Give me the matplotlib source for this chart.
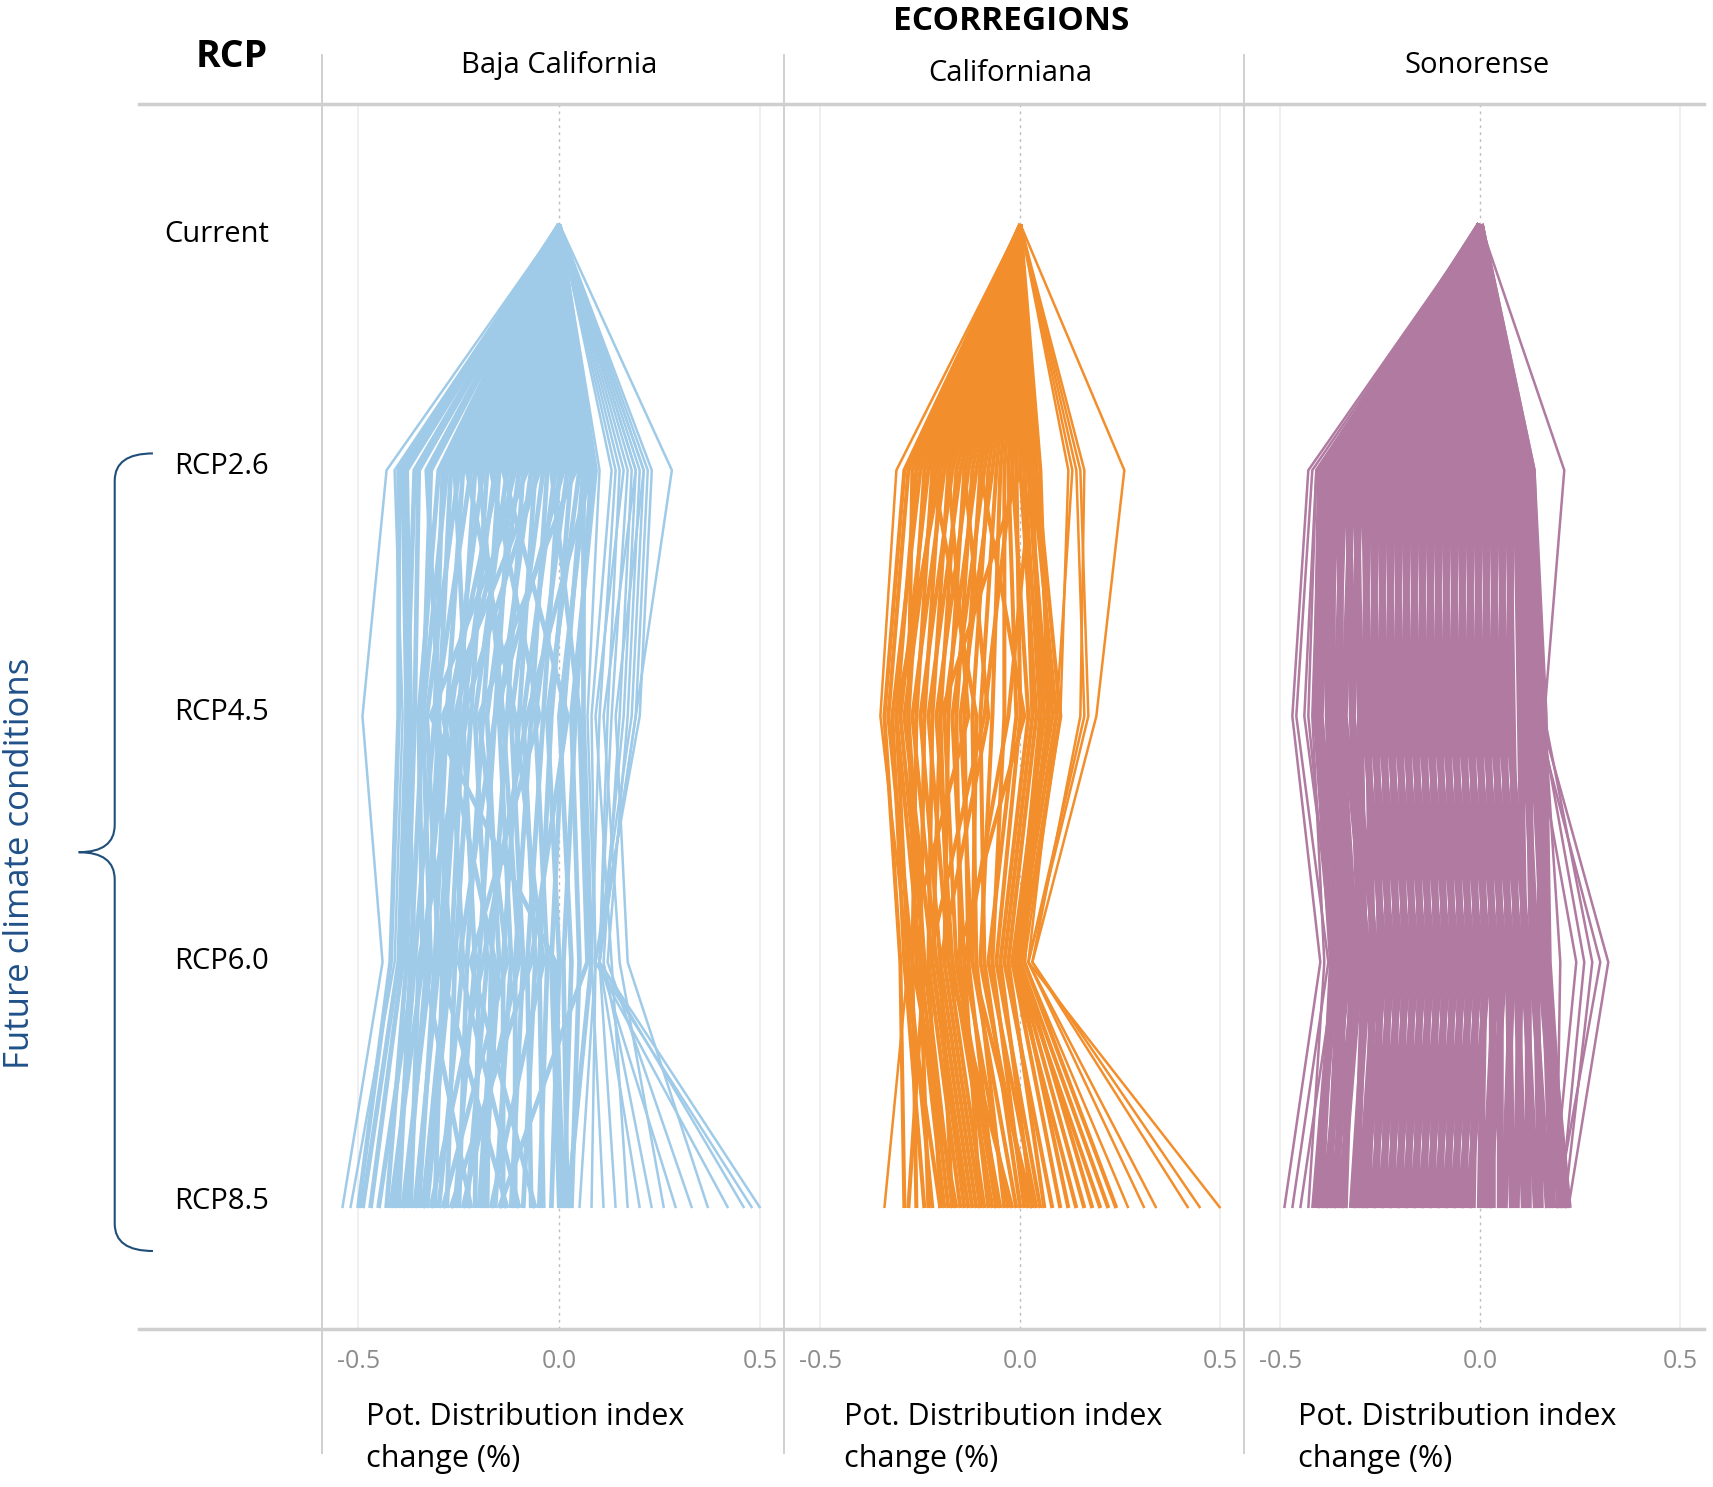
import matplotlib.pyplot as plt
from matplotlib.path import Path
from matplotlib.patches import PathPatch
from matplotlib.lines import Line2D

plt.rcParams['font.family'] = ['Open Sans', 'DejaVu Sans']

rcp_labels = ['Current', 'RCP2.6', 'RCP4.5', 'RCP6.0', 'RCP8.5']
regions = ['Baja California', 'Californiana', 'Sonorense']
colors = ['#a0cbe8', '#f28e2b', '#b07aa1']
xticks = [-0.5, 0.0, 0.5]

# every line starts at 0 for "Current"; values below are RCP2.6, RCP4.5, RCP6.0, RCP8.5
# "core" = the dense bundle, "edge" = the few separate lines around it
baja_core = [
    [-0.40, -0.40, -0.42, -0.50], [-0.39, -0.38, -0.40, -0.49], [-0.38, -0.37, -0.39, -0.47],
    [-0.36, -0.38, -0.36, -0.45], [-0.35, -0.36, -0.38, -0.43], [-0.33, -0.30, -0.28, -0.34],
    [-0.30, -0.35, -0.34, -0.42], [-0.28, -0.34, -0.37, -0.40], [-0.27, -0.30, -0.33, -0.38],
    [-0.26, -0.23, -0.35, -0.37], [-0.25, -0.33, -0.30, -0.36], [-0.24, -0.28, -0.31, -0.35],
    [-0.23, -0.11, -0.04, -0.17], [-0.22, -0.31, -0.27, -0.33], [-0.21, -0.25, -0.29, -0.31],
    [-0.20, -0.14, -0.10, -0.24], [-0.19, -0.27, -0.24, -0.30], [-0.18, -0.22, -0.26, -0.28],
    [-0.17, -0.05, -0.22, -0.06], [-0.16, -0.24, -0.21, -0.26], [-0.15, -0.19, -0.23, -0.25],
    [-0.14, 0.02, -0.07, -0.27], [-0.13, -0.21, -0.18, -0.23], [-0.12, -0.16, -0.20, -0.21],
    [-0.11, -0.26, -0.30, -0.13], [-0.10, -0.18, -0.15, -0.19], [-0.09, -0.13, -0.17, -0.18],
    [-0.08, -0.32, -0.01, 0.01], [-0.07, -0.15, -0.12, -0.16], [-0.06, -0.10, -0.14, -0.14],
    [-0.05, -0.29, -0.16, -0.20], [-0.04, -0.12, -0.09, -0.12], [-0.03, -0.07, -0.11, -0.11],
    [-0.02, 0.05, 0.07, -0.15], [-0.01, -0.09, -0.06, -0.09], [0.00, -0.04, -0.08, -0.07],
    [0.01, -0.16, -0.25, -0.10], [0.02, -0.06, -0.03, -0.05], [0.03, -0.02, -0.05, -0.04],
    [0.04, -0.20, -0.13, -0.29], [0.05, -0.03, 0.00, -0.02], [0.06, 0.01, -0.02, 0.00],
    [0.06, 0.06, 0.08, 0.02], [0.07, 0.00, 0.03, 0.01], [0.08, 0.04, 0.01, 0.02],
    [0.08, -0.08, -0.19, -0.32], [0.09, 0.03, 0.05, 0.03], [-0.32, -0.34, -0.32, -0.39],
    [-0.29, -0.31, -0.36, -0.41], [-0.15, -0.28, -0.34, -0.22], [-0.05, -0.24, -0.27, -0.34],
]
baja_edge = [
    [-0.43, -0.49, -0.44, -0.54], [-0.41, -0.39, -0.41, -0.52],
    [0.10, 0.07, 0.09, 0.05], [0.13, 0.08, 0.09, 0.08], [0.14, 0.10, 0.08, 0.11],
    [0.15, 0.12, 0.10, 0.14], [0.16, 0.09, 0.13, 0.17], [0.17, 0.13, 0.10, 0.20],
    [0.18, 0.15, 0.11, 0.23], [0.19, 0.11, 0.15, 0.26], [0.19, 0.16, 0.10, 0.29],
    [0.20, 0.17, 0.12, 0.33], [0.21, 0.14, 0.17, 0.37], [0.21, 0.18, 0.09, 0.42],
    [0.22, 0.19, 0.10, 0.46], [0.23, 0.20, 0.09, 0.48], [0.28, 0.19, 0.10, 0.50],
]

cal_core = [
    [-0.29, -0.34, -0.30, -0.29], [-0.28, -0.33, -0.27, -0.26], [-0.27, -0.28, -0.24, -0.28],
    [-0.26, -0.31, -0.25, -0.23], [-0.25, -0.32, -0.29, -0.20], [-0.24, -0.28, -0.26, -0.19],
    [-0.23, -0.30, -0.24, -0.17], [-0.22, -0.26, -0.27, -0.16], [-0.21, -0.29, -0.22, -0.14],
    [-0.20, -0.24, -0.25, -0.18], [-0.19, -0.27, -0.21, -0.12], [-0.18, -0.22, -0.23, -0.15],
    [-0.17, -0.25, -0.20, -0.11], [-0.16, -0.20, -0.22, -0.13], [-0.15, -0.23, -0.18, -0.09],
    [-0.14, -0.18, -0.19, -0.10], [-0.13, -0.21, -0.17, -0.07], [-0.12, -0.16, -0.15, -0.08],
    [-0.11, -0.19, -0.16, -0.05], [-0.10, -0.14, -0.13, -0.06], [-0.09, -0.17, -0.14, -0.03],
    [-0.08, -0.12, -0.11, -0.04], [-0.07, -0.15, -0.12, -0.01], [-0.06, -0.10, -0.09, 0.00],
    [-0.05, -0.07, -0.10, 0.02], [-0.04, -0.04, -0.07, 0.01], [-0.03, -0.01, -0.08, 0.04],
    [-0.02, 0.02, -0.05, 0.03], [-0.01, 0.00, -0.06, 0.05], [0.00, 0.04, -0.03, 0.06],
    [0.01, 0.03, -0.04, 0.08], [0.02, 0.06, -0.02, 0.10], [0.03, 0.05, -0.01, 0.12],
    [0.04, 0.08, -0.02, 0.14], [0.05, 0.07, -0.01, 0.16], [0.04, 0.10, 0.00, 0.18],
    [0.03, 0.09, -0.01, 0.20], [0.02, 0.07, 0.00, 0.22], [0.01, 0.05, 0.01, 0.24],
    [-0.18, -0.13, -0.29, -0.24], [-0.20, -0.31, -0.28, -0.22], [-0.14, -0.08, -0.20, -0.17],
    [-0.02, -0.09, -0.23, -0.20], [0.00, -0.20, -0.18, -0.02], [-0.10, 0.01, -0.16, -0.06],
    [-0.22, -0.11, -0.12, 0.03], [0.03, -0.03, -0.14, -0.10],
]
cal_edge = [
    [-0.31, -0.35, -0.28, -0.34],
    [0.12, 0.10, 0.01, 0.27], [0.14, 0.16, 0.02, 0.31], [0.15, 0.17, 0.02, 0.34],
    [0.16, 0.15, 0.03, 0.42], [0.26, 0.19, 0.03, 0.45], [0.13, 0.09, 0.02, 0.50],
]

sono_core = [
    [-0.40, -0.41, -0.37, -0.40], [-0.39, -0.38, -0.36, -0.41], [-0.38, -0.40, -0.35, -0.38],
    [-0.37, -0.37, -0.33, -0.39], [-0.36, -0.38, -0.34, -0.36], [-0.35, -0.35, -0.31, -0.37],
    [-0.34, -0.36, -0.32, -0.34], [-0.33, -0.32, -0.30, -0.35], [-0.32, -0.34, -0.28, -0.32],
    [-0.31, -0.30, -0.29, -0.31], [-0.30, -0.32, -0.26, -0.30], [-0.29, -0.28, -0.27, -0.28],
    [-0.28, -0.29, -0.24, -0.29], [-0.27, -0.26, -0.25, -0.26], [-0.26, -0.27, -0.22, -0.27],
    [-0.25, -0.24, -0.23, -0.24], [-0.24, -0.25, -0.20, -0.25], [-0.23, -0.22, -0.21, -0.22],
    [-0.22, -0.23, -0.18, -0.23], [-0.21, -0.20, -0.19, -0.20], [-0.20, -0.21, -0.16, -0.21],
    [-0.19, -0.18, -0.17, -0.18], [-0.18, -0.19, -0.14, -0.19], [-0.17, -0.16, -0.15, -0.16],
    [-0.16, -0.17, -0.12, -0.17], [-0.15, -0.14, -0.13, -0.14], [-0.14, -0.15, -0.10, -0.15],
    [-0.13, -0.12, -0.11, -0.12], [-0.12, -0.13, -0.08, -0.13], [-0.11, -0.10, -0.09, -0.10],
    [-0.10, -0.11, -0.06, -0.11], [-0.09, -0.08, -0.07, -0.08], [-0.08, -0.09, -0.04, -0.09],
    [-0.07, -0.06, -0.05, -0.06], [-0.06, -0.07, -0.02, -0.07], [-0.05, -0.04, -0.03, -0.04],
    [-0.04, -0.05, 0.00, -0.05], [-0.03, -0.02, -0.01, -0.02], [-0.02, -0.03, 0.02, -0.03],
    [-0.01, 0.00, 0.01, 0.00], [0.00, -0.01, 0.04, 0.01], [0.01, 0.02, 0.03, 0.03],
    [0.02, 0.01, 0.06, 0.02], [0.03, 0.04, 0.05, 0.05], [0.04, 0.03, 0.08, 0.06],
    [0.05, 0.06, 0.07, 0.08], [0.06, 0.05, 0.10, 0.09], [0.07, 0.08, 0.09, 0.11],
    [0.08, 0.07, 0.12, 0.12], [0.09, 0.10, 0.11, 0.14], [0.10, 0.11, 0.14, 0.15],
    [0.11, 0.12, 0.13, 0.17], [0.12, 0.14, 0.16, 0.18], [0.13, 0.15, 0.15, 0.20],
    [0.13, 0.16, 0.17, 0.21], [0.12, 0.13, 0.16, 0.22],
]
sono_edge = [
    [-0.43, -0.47, -0.40, -0.49], [-0.42, -0.46, -0.38, -0.47], [-0.41, -0.44, -0.36, -0.45],
    [-0.40, -0.42, -0.39, -0.43], [-0.41, -0.43, -0.37, -0.42],
    [0.21, 0.16, 0.20, 0.19], [0.13, 0.15, 0.26, 0.20], [0.12, 0.16, 0.28, 0.21],
    [0.13, 0.14, 0.30, 0.19], [0.12, 0.15, 0.32, 0.22], [0.11, 0.13, 0.24, 0.18],
]

core_lines = [baja_core, cal_core, sono_core]
edge_lines = [baja_edge, cal_edge, sono_edge]
core_widths = [3.4, 2.9, 5.0]

W, H = 1568.0, 1361.0


def fx(x):
    return x / W


def fy(y):
    return 1 - y / H


fig = plt.figure(figsize=(17.13, 14.87), dpi=100)

seps = [295, 718, 1139, 1560]
ax_top, ax_bot = 95, 1216
ys = range(len(rcp_labels))
for i, region in enumerate(regions):
    ax = fig.add_axes([fx(seps[i]), fy(ax_bot), fx(seps[i + 1] - seps[i]), (ax_bot - ax_top) / H])
    for v in (-0.5, 0.5):
        ax.axvline(v, color='#ececec', lw=1.2, zorder=0)
    ax.axvline(0, color='#bdbdbd', lw=1.0, ls=(0, (2, 3)), zorder=0)
    for row in core_lines[i]:
        ax.plot([0] + list(row), ys, color=colors[i], lw=core_widths[i],
                solid_capstyle='butt', solid_joinstyle='round', zorder=2)
    for row in edge_lines[i]:
        ax.plot([0] + list(row), ys, color=colors[i], lw=1.8,
                solid_capstyle='butt', zorder=2)
    ax.set_xlim(-0.59, 0.56)
    ax.set_ylim(4.49, -0.49)
    ax.set_xticks(xticks)
    ax.set_xticklabels(['%.1f' % t for t in xticks], color='#8c8c8c', fontsize=18)
    ax.tick_params(axis='x', length=0, pad=15)
    ax.set_yticks([])
    for s in ax.spines.values():
        s.set_visible(False)
    ax.patch.set_alpha(0)

# frame lines
for y in (ax_top, ax_bot):
    fig.add_artist(Line2D([fx(127), fx(1560)], [fy(y), fy(y)], color='#cfcfcf', lw=2.5))
for x in seps[:3]:
    fig.add_artist(Line2D([fx(x), fx(x)], [fy(50), fy(1330)], color='#d0d0d0', lw=1.4))

# headers
fig.text(fx(926), fy(20), 'ECORREGIONS', ha='center', va='center', fontsize=24, fontweight='bold')
fig.text(fx(212), fy(52), 'RCP', ha='center', va='center', fontsize=27, fontweight='bold')
for x, y, region in zip([512, 925, 1352], [60, 67, 60], regions):
    fig.text(fx(x), fy(y), region, ha='center', va='center', fontsize=21)

# row labels
for lab, y in zip(rcp_labels, [215, 427, 652, 880, 1100]):
    fig.text(fx(246), fy(y), lab, ha='right', va='center', fontsize=21)

# x axis titles
for x in [335, 773, 1188]:
    fig.text(fx(x), fy(1283), 'Pot. Distribution index\nchange (%)', ha='left', va='top',
             fontsize=22, linespacing=1.55)

# brace for future conditions
verts = [(140, 415), (105, 415), (105, 440), (105, 755), (105, 780), (72, 780),
         (105, 780), (105, 805), (105, 1120), (105, 1145), (140, 1145)]
codes = [Path.MOVETO, Path.CURVE3, Path.CURVE3, Path.LINETO, Path.CURVE3, Path.CURVE3,
         Path.CURVE3, Path.CURVE3, Path.LINETO, Path.CURVE3, Path.CURVE3]
brace = Path([(fx(x), fy(y)) for x, y in verts], codes)
fig.add_artist(PathPatch(brace, transform=fig.transFigure, fill=False, edgecolor='#1f4e79', lw=1.5))
fig.text(fx(18), fy(790), 'Future climate conditions', rotation=90, ha='center', va='center',
         fontsize=25, color='#1f5088')

fig.savefig('out.png', dpi=100)
